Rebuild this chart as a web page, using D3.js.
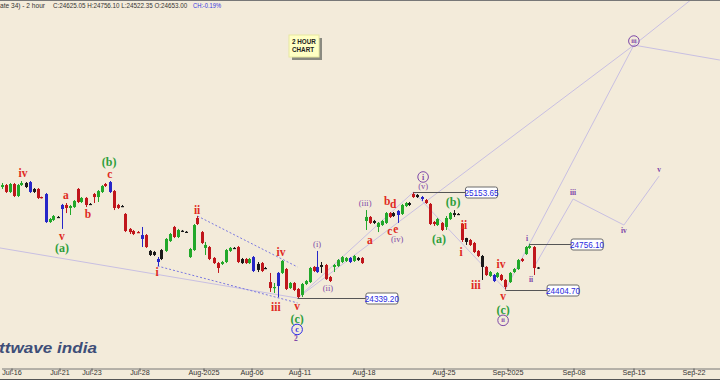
<!DOCTYPE html>
<html><head><meta charset="utf-8">
<script src="https://cdn.jsdelivr.net/npm/d3@7"></script>
<style>html,body{margin:0;padding:0;background:#F3EBDA;overflow:hidden}svg{display:block}</style>
</head><body><svg id="c" width="720" height="380"></svg>
<script>
// ---------- DATA (2-hour bars, index 0 = first visible bar) ----------
const opens=[25192,25207,25154,25215,25123,25207,25223,25230,25177,25177,
25115,25138,24923,24939,24962,25054,25054,25031,25038,25177,
25077,25108,25062,25138,25115,25154,25215,25230,25161,25054,
25046,24985,24870,24854,24846,24823,24823,24701,24693,24639,
24639,24701,24777,24885,24808,24854,24846,24654,24708,24954,
24846,24724,24731,24647,24608,24601,24616,24701,24724,24731,
24639,24639,24608,24654,24601,24608,24570,24462,24422,24432,
24532,24562,24416,24455,24409,24363,24447,24462,24578,24578,
24593,24593,24501,24578,24585,24616,24624,24647,24624,24647,
24647,24931,24962,24931,24885,24900,24916,24992,24992,25008,
24985,25046,25069,25138,25131,25115,25092,25062,24923,24900,
24916,24885,24946,24992,24985,24908,24800,24785,24762,24701,
24662,24578,24509,24516,24501,24516,24478,24462,24539,24562,
24639,24677,24724,24731,24570];
const highs=[25223,25215,25223,25223,25215,25238,25230,25238,25184,25184,
25118,25146,24954,24977,24969,25062,25069,25054,25092,25184,
25115,25115,25069,25146,25169,25207,25223,25238,25169,25062,
25054,24992,24877,24862,24854,24885,24831,24708,24701,24654,
24716,24800,24839,24893,24870,24862,24854,24724,24908,24969,
24854,24770,24739,24654,24616,24624,24716,24731,24731,24739,
24647,24647,24647,24662,24616,24616,24578,24532,24455,24539,
24631,24570,24462,24462,24416,24455,24478,24578,24585,24701,
24616,24601,24509,24601,24639,24662,24654,24654,24670,24654,
24654,25015,24969,24939,24923,24939,25000,25000,25000,25015,
25062,25077,25077,25153.65,25138,25123,25100,25069,24931,24954,
24923,24969,25000,25015,24992,24916,24802,24793,24770,24708,
24670,24585,24547,24524,24539,24524,24485,24539,24570,24639,
24647,24739,24756.10,24739,24578];
const lows=[25177,25146,25146,25115,25115,25200,25184,25146,25146,25100,
25104,24916,24916,24931,24954,24870,24992,24977,25031,25069,
25069,25038,25054,25069,25077,25146,25192,25146,25015,25023,
25038,24846,24831,24823,24839,24731,24724,24662,24662,24585,
24631,24693,24770,24800,24800,24846,24839,24647,24701,24900,
24754,24670,24631,24601,24532,24593,24608,24693,24716,24608,
24601,24601,24601,24539,24539,24539,24562,24386,24378,24345,
24524,24401,24409,24393,24339.20,24347,24439,24455,24539,24532,
24532,24478,24462,24539,24578,24608,24616,24608,24616,24624,
24601,24862,24908,24908,24846,24893,24908,24954,24962,24916,
24977,25038,25046,25108,25108,25085,25062,24900,24893,24893,
24854,24862,24939,24962,24977,24770,24747,24739,24685,24654,
24478,24509,24501,24462,24493,24470,24404.70,24455,24532,24555,
24616,24670,24716,24516,24562];
const closes=[25207,25154,25215,25123,25207,25223,25192,25154,25154,25108,
25108,24923,24946,24969,24960,25023,25031,25046,25085,25077,
25108,25054,25060,25115,25161,25200,25200,25154,25031,25031,
25044,24854,24846,24831,24843,24793,24731,24670,24670,24616,
24708,24793,24831,24808,24862,24856,24848,24716,24900,24908,
24762,24747,24639,24608,24570,24616,24708,24724,24722,24616,
24608,24608,24639,24547,24555,24547,24568,24416,24424,24532,
24624,24409,24455,24401,24347,24447,24470,24570,24547,24539,
24578,24485,24470,24593,24631,24654,24647,24616,24662,24631,
24608,24962,24916,24916,24916,24931,24992,24962,24969,24977,
25054,25069,25054,25115,25115,25100,25069,24908,24908,24946,
24862,24954,24992,24977,24983,24785,24770,24747,24693,24662,
24578,24516,24539,24470,24532,24478,24424,24532,24562,24631,
24624,24731,24739,24570,24574];
// candle colour class: g=green r=red b=blue k=black
const kinds=("grgrggkbkr"+"rbggkbrggr"+"grkrggrbrr"+"krrrrbrkkb"+"kggrgkkggr"+
"rgrrrgggkr"+"krgbkrkrgb"+"grgrrgggrb"+"krrggggbgk"+"rgrkgggrkb"+
"ggkrkbrrrg"+"rggkkrkrrr"+"krgbgrrggg"+"rggrk").split("");

const tickIdx=[3,15,23,35,51,63,75,91,111,127,143.5,158.5,173.5,183];
const tickLabels=["Jul-16","Jul-21","Jul-23","Jul-28","Aug-2025","Aug-06","Aug-11","Aug-18","Aug-25","Sep-2025","Sep-08","Sep-15","Sep-22","Sep-29"];

const levelPrices=[25153.65,24339.20,24756.10,24404.70];
const levelFrom=[103,74,132,126];
const levelTo=[116,91.1,142.4,136.4];

// projection / channel lines (bar index, price)
const channelLine=[[-0.4,24724],[74,24339.2]];
const line2toI=[[74,24339.2],[103,25153.65]];
const line2toIII=[[74,24339.2],[158.1,26282],[173.6,26660]];
const lineIto2=[[103,25153.65],[126,24404.7]];
const lineIItoIII=[[126,24404.7],[158.1,26282],[179.6,26167]];
const subWaves=[[133,24570],[142.9,25100],[155.6,24900],[164.4,25276]];
const wedgeUpper=[[49,24969],[74,24578]];
const wedgeLower=[[39,24585],[74,24302]];

// wave labels: text, bar index, price, style
const waveText=["iv","v","(a)","a","b","c","(b)","ii","i","iv","iii","v","(c)","c","2",
"(i)","(ii)","(iii)","a","b","d","c","e","(iv)","i","(v)","(a)","(b)","ii","i","iii","iv","v","(c)","ii",
"i","ii","iii","iv","v","iii"];
const waveBar=[5.4,15.1,15.1,16.1,21.6,27.1,26.9,48.9,38.9,69.9,68.6,73.9,73.9,73.9,73.6,
78.9,81.6,90.9,92.1,96.4,97.9,97.1,98.6,98.9,105.4,105.4,109.4,112.9,115.6,114.9,118.6,124.9,125.4,125.4,125.4,
131.4,132.4,142.9,155.6,164.4,158.1];
const wavePrice=[25300,24816,24724,25131,24985,25292,25384,25015,24539,24693,24270,24274,24180,24098,24032,
24754,24416,25069,24785,25085,25062,24854,24870,24793,25269,25200,24793,25077,24900,24693,24439,24601,24351,24250,24168,
24800,24478,25146,24854,25323,26313];
const waveStyle=["r","r","G","r","r","r","G","r","r","r","r","r","G","CB","p",
"P","P","P","r","r","r","r","r","P","CP","P","G","G","r","r","r","r","r","G","CP",
"p","p","p","p","p","CP"];

// ---------- DRAW ----------
const W=720,H=380;
const svg=d3.select("#c");
const x=d3.scaleLinear().domain([0,180]).range([1.5,721.5]);
const y=d3.scaleLinear().domain([23709.8,26628.21]).range([380,0]);
svg.append("rect").attr("width",W).attr("height",H).attr("fill","#F3EBDA");

const lav="#C8BFE2";
const lineGen=d3.line().x(d=>x(d[0])).y(d=>y(d[1]));
[channelLine,line2toI,line2toIII,lineIto2,lineIItoIII,subWaves].forEach(l=>{
  svg.append("path").attr("d",lineGen(l)).attr("fill","none").attr("stroke",lav).attr("stroke-width",1);
});
[wedgeUpper,wedgeLower].forEach(l=>{
  svg.append("path").attr("d",lineGen(l)).attr("fill","none").attr("stroke","#7A78E0")
    .attr("stroke-width",1).attr("stroke-dasharray","2,2");
});

const col={g:"#22A82A",r:"#C0161C",b:"#2626C8",k:"#1A1A1A"};
const bars=opens.map((o,i)=>({i,o,h:highs[i],l:lows[i],c:closes[i],k:kinds[i]}));
const cg=svg.append("g");
cg.selectAll("line.w").data(bars).join("line")
  .attr("x1",d=>Math.round(x(d.i))+0.5).attr("x2",d=>Math.round(x(d.i))+0.5)
  .attr("y1",d=>y(d.h)).attr("y2",d=>y(d.l)).attr("stroke",d=>col[d.k]).attr("stroke-width",1);
cg.selectAll("rect.b").data(bars).join("rect")
  .attr("x",d=>Math.round(x(d.i))-1).attr("width",3)
  .attr("y",d=>y(Math.max(d.o,d.c)))
  .attr("height",d=>Math.max(1.2,Math.abs(y(d.o)-y(d.c))))
  .attr("fill",d=>col[d.k]);

// price levels
levelPrices.forEach((p,k)=>{
  const yy=Math.round(y(p))+0.5;
  svg.append("line").attr("x1",x(levelFrom[k])).attr("x2",x(levelTo[k]))
    .attr("y1",yy).attr("y2",yy).attr("stroke","#555").attr("stroke-width",1);
  const bx=x(levelTo[k]);
  svg.append("rect").attr("x",bx).attr("y",yy-5.5).attr("width",32).attr("height",11)
    .attr("rx",2).attr("fill","#fff").attr("stroke","#6a6a6a").attr("stroke-width",1);
  svg.append("text").attr("x",bx+16).attr("y",yy+3).attr("text-anchor","middle")
    .attr("font-family","Liberation Sans, Arial, sans-serif").attr("font-size",8.2)
    .attr("fill","#2a2ae0").text(p.toFixed(2));
});

// wave labels
const stl={
  r:{fill:"#E02A22",size:11.5,font:"Liberation Serif, serif",weight:"bold"},
  G:{fill:"#2E9E3A",size:12,font:"Liberation Serif, serif",weight:"bold"},
  P:{fill:"#7E48A8",size:8.5,font:"Liberation Serif, serif",weight:"normal"},
  p:{fill:"#7E48A8",size:7.5,font:"Liberation Serif, serif",weight:"bold"}
};
waveText.forEach((t,k)=>{
  const s=waveStyle[k], cx=x(waveBar[k]), cy=y(wavePrice[k]);
  if(s==="CB"||s==="CP"){
    const c=s==="CB"?"#2A2AE8":"#7E48A8";
    svg.append("circle").attr("cx",cx).attr("cy",cy).attr("r",5.3)
      .attr("fill","none").attr("stroke",c).attr("stroke-width",1);
    svg.append("text").attr("x",cx).attr("y",cy).attr("dy","0.33em").attr("text-anchor","middle")
      .attr("font-family","Liberation Serif, serif").attr("font-size",t.length>1?6.5:8).attr("font-weight","bold")
      .attr("fill",c).text(t);
  } else {
    const st=stl[s];
    svg.append("text").attr("x",cx).attr("y",cy).attr("dy","0.33em").attr("text-anchor","middle")
      .attr("font-family",st.font).attr("font-size",st.size).attr("font-weight",st.weight)
      .attr("fill",st.fill).text(t);
  }
});

// axis
const ax=svg.append("g").attr("transform","translate(0,368.5)")
  .call(d3.axisBottom(x).tickValues(tickIdx.map(d=>d-0.5)).tickFormat((d,i)=>tickLabels[i]).tickSize(3).tickSizeOuter(0));
ax.select(".domain").attr("stroke","#777");
ax.selectAll(".tick line").attr("stroke","#555");
ax.selectAll(".tick text").attr("font-family","Liberation Sans, Arial, sans-serif").attr("font-size",7.2)
  .attr("fill","#333").attr("dy","0.55em").attr("y",3);
svg.append("line").attr("x1",0).attr("x2",W).attr("y1",379.5).attr("y2",379.5).attr("stroke","#555");
svg.append("line").attr("x1",0).attr("x2",W).attr("y1",0.5).attr("y2",0.5).attr("stroke","#777");

// 2 hour note
svg.append("rect").attr("x",292).attr("y",38).attr("width",30).attr("height",22).attr("fill","#8a8a80");
svg.append("rect").attr("x",289).attr("y",35).attr("width",30).attr("height",22).attr("fill","#FFFFC4").attr("stroke","#E8E8A0");
svg.append("text").attr("x",292).attr("y",44).attr("font-family","Liberation Sans, Arial, sans-serif")
  .attr("font-size",6.3).attr("font-weight","bold").attr("fill","#222").text("2 HOUR");
svg.append("text").attr("x",292).attr("y",51.5).attr("font-family","Liberation Sans, Arial, sans-serif")
  .attr("font-size",6.3).attr("font-weight","bold").attr("fill","#222").text("CHART");

// horizontally fitted text helper (scales glyphs to a target width)
function fitText(txt,x0,y0,w,size,attrs){
  const g=svg.append("g");
  const t=g.append("text").attr("x",0).attr("y",0).attr("font-size",size).text(txt);
  Object.entries(attrs).forEach(([k,v])=>t.attr(k,v));
  const nat=t.node().getComputedTextLength()||w;
  g.attr("transform",`translate(${x0},${y0}) scale(${w/nat},1)`);
}
const hf="Liberation Sans, Arial, sans-serif";
// logo
fitText("ttwave india",-1,353,98,14,{"font-family":hf,"font-weight":"bold","font-style":"italic","fill":"#3E4E78"});
// header
fitText("ate 34) - 2 hour",0,8,45,7.2,{"font-family":hf,"fill":"#333"});
fitText("C:24625.05  H:24756.10  L:24522.35  O:24653.00",53,8,134,7.2,{"font-family":hf,"fill":"#333"});
fitText("CH:-0.19%",193,8,28,7.2,{"font-family":hf,"fill":"#3535E0"});
</script></body></html>
